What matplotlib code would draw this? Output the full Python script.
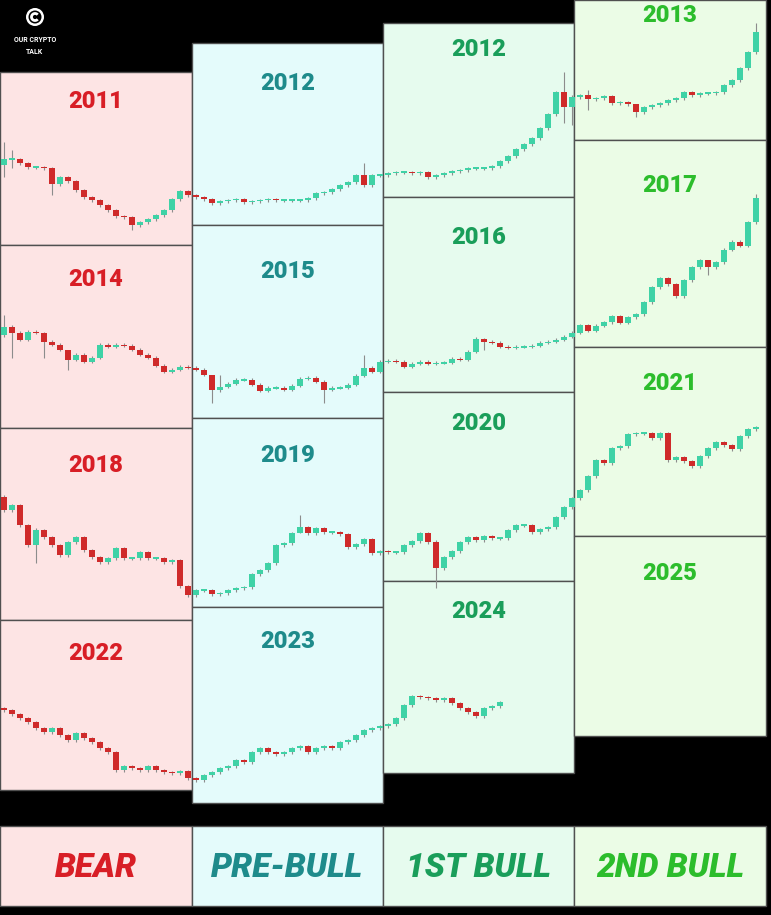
import matplotlib.pyplot as plt
import numpy as np
from matplotlib.patches import Rectangle, Circle, Arc

plt.rcParams['font.family'] = ['Roboto', 'DejaVu Sans']

# phases (columns) and their colours
phases = ["BEAR", "PRE-BULL", "1ST BULL", "2ND BULL"]
phase_bg = ["#fde4e4", "#e4fbfb", "#e6fbee", "#ebfce6"]
phase_fg = ["#d81e26", "#1e8b8b", "#1a9e5a", "#2cbd2c"]

# year labels, one row per cycle
years = [["2011", "2012", "2012", "2013"],
         ["2014", "2015", "2016", "2017"],
         ["2018", "2019", "2020", "2021"],
         ["2022", "2023", "2024", "2025"]]

# weekly closes per cycle row (relative price)
row1_close = [91, 91, 87, 83, 83, 82, 66, 73, 69, 60, 53, 50, 45, 40, 34, 33, 25, 28, 31, 35, 40, 51, 59, 55,
              53, 51, 47, 49, 50, 51, 48, 49, 50, 51, 50, 50, 50, 50, 52, 57, 58, 61, 65, 68, 75, 65, 75, 75,
              77, 78, 78, 77, 78, 73, 75, 77, 79, 80, 82, 82, 82, 84, 89, 94, 101, 106, 112, 122, 136, 158, 143, 153,
              155, 151, 152, 154, 147, 148, 146, 138, 143, 145, 147, 150, 152, 158, 155, 157, 157, 158, 165, 170, 182, 198, 218]
row2_close = [93, 87, 80, 88, 87, 78, 75, 70, 60, 65, 58, 62, 75, 73, 75, 74, 70, 65, 62, 54, 48, 50, 53, 52,
              50, 45, 30, 33, 36, 40, 40, 35, 29, 32, 32, 30, 34, 41, 42, 38, 30, 32, 32, 35, 44, 52, 48, 58,
              59, 58, 53, 56, 58, 56, 57, 57, 61, 60, 68, 81, 78, 77, 73, 72, 73, 73, 74, 77, 78, 80, 83, 87,
              95, 89, 94, 98, 104, 97, 103, 106, 118, 133, 142, 136, 124, 140, 153, 160, 153, 158, 170, 178, 174, 198, 222]
row3_close = [100, 105, 85, 65, 80, 73, 65, 55, 68, 73, 60, 53, 48, 52, 62, 52, 52, 58, 52, 52, 48, 50, 24, 15,
              20, 20, 16, 17, 20, 22, 23, 36, 40, 47, 65, 67, 77, 83, 77, 82, 78, 78, 76, 63, 66, 71, 57, 59,
              58, 58, 65, 69, 77, 68, 42, 53, 59, 68, 73, 70, 74, 72, 72, 80, 85, 85, 78, 81, 83, 93, 103, 112,
              120, 134, 150, 147, 162, 164, 176, 177, 177, 172, 177, 150, 153, 149, 144, 154, 162, 168, 165, 161, 174, 181, 183]
row4_close = [90, 86, 82, 78, 72, 68, 72, 65, 60, 67, 62, 58, 52, 48, 30, 34, 32, 30, 34, 30, 28, 27, 29, 22,
              20, 25, 28, 32, 34, 40, 38, 48, 52, 48, 46, 48, 52, 54, 48, 52, 54, 52, 58, 60, 65, 70, 72, 74,
              76, 82, 95, 104, 103, 102, 100, 102, 97, 92, 88, 84, 92, 94, 98]
first_open = [85, 85, 113, 92]

# long wicks: index -> (high, low)
row1_wicks = {0: (108, 73), 1: (100, 82), 6: (83, 55), 16: (34, 20), 45: (87, 63),
              70: (178, 127), 71: (155, 125), 73: (160, 140), 79: (140, 133), 94: (227, 196)}
row2_wicks = {0: (105, 83), 1: (95, 62), 5: (88, 62), 8: (70, 50), 26: (45, 17), 27: (45, 28),
              40: (40, 17), 45: (65, 43), 60: (82, 70), 88: (160, 145), 94: (226, 196)}
row3_wicks = {0: (115, 98), 4: (82, 47), 37: (95, 77), 54: (70, 22)}
row4_wicks = {}

closes = [row1_close, row2_close, row3_close, row4_close]
wicks = [row1_wicks, row2_wicks, row3_wicks, row4_wicks]

# layout in pixels
W, H = 771, 915
col_x = [0, 192, 383, 574, 766]
col_edges = [[72, 245, 428, 620, 790],
             [43, 225, 418, 607, 803],
             [23, 197, 392, 581, 773],
             [0, 140, 347, 536, 736]]
label_y = [[102, 279, 466, 653],
           [83, 272, 455, 642],
           [49, 238, 423, 611],
           [16, 185, 384, 573]]
row_band = [(10, 250), (180, 420), (400, 610), (680, 800)]

fig = plt.figure(figsize=(W / 100, H / 100), dpi=100)
fig.patch.set_facecolor("black")
ax = fig.add_axes([0, 0, 1, 1])
ax.set_xlim(0, W)
ax.set_ylim(H, 0)
ax.set_facecolor("black")
ax.axis("off")

for c in range(4):
    x0, x1 = col_x[c], col_x[c + 1]
    for r in range(4):
        y0, y1 = col_edges[c][r], col_edges[c][r + 1]
        ax.add_patch(Rectangle((x0, y0), x1 - x0, y1 - y0, facecolor=phase_bg[c],
                               edgecolor="#505050", lw=1))
        ax.text((x0 + x1) / 2, label_y[c][r], years[r][c],
                color=phase_fg[c], fontsize=17, fontweight="black", ha="center", va="center")
    # bottom label
    ax.add_patch(Rectangle((x0, 826), x1 - x0, 80, facecolor=phase_bg[c], edgecolor="#505050", lw=1))
    ax.text((x0 + x1) / 2, 868, phases[c], color=phase_fg[c], fontsize=24,
            fontweight="black", fontstyle="italic", ha="center", va="center")

# logo
ax.add_patch(Circle((35, 17), 9, facecolor="white", edgecolor="none"))
ax.add_patch(Circle((35, 17), 6.5, facecolor="black", edgecolor="none"))
ax.add_patch(Arc((35, 17), 7, 7, theta1=40, theta2=320, color="white", lw=2))
ax.text(35, 40, "OUR CRYPTO", color="white", fontsize=5, fontweight="bold", ha="center", va="center")
ax.text(35, 52, "TALK", color="white", fontsize=5, fontweight="bold", ha="center", va="center")

# candles, one overlay axes per cycle row
up_col, down_col, wick_col = "#3fd2a6", "#cf2a2a", "#8c8c8c"
for r in range(4):
    top, bot = row_band[r]
    cax = fig.add_axes([0, (H - bot) / H, 1, (bot - top) / H])
    cax.set_xlim(-0.5, (W - 4) / 8)
    cax.set_ylim(0, bot - top)
    cax.axis("off")
    cax.patch.set_alpha(0)
    c = np.array(closes[r], dtype=float)
    o = np.concatenate([[first_open[r]], c[:-1]])
    idx = np.arange(len(c))
    lo_body = np.minimum(o, c)
    hi_body = np.maximum(o, c)
    hi = hi_body + 1.5
    lo = lo_body - 1.5
    for k, (h, l) in wicks[r].items():
        hi[k], lo[k] = h, l
    cols = np.where(c >= o, up_col, down_col)
    cax.vlines(idx, lo, hi, color=wick_col, lw=0.8, zorder=1)
    body = np.maximum(hi_body - lo_body, 1.8)
    cax.bar(idx, body, bottom=(hi_body + lo_body) / 2 - body / 2, width=0.68,
            color=cols, edgecolor="none", zorder=2)

fig.savefig("out.png", dpi=100, facecolor="black")
